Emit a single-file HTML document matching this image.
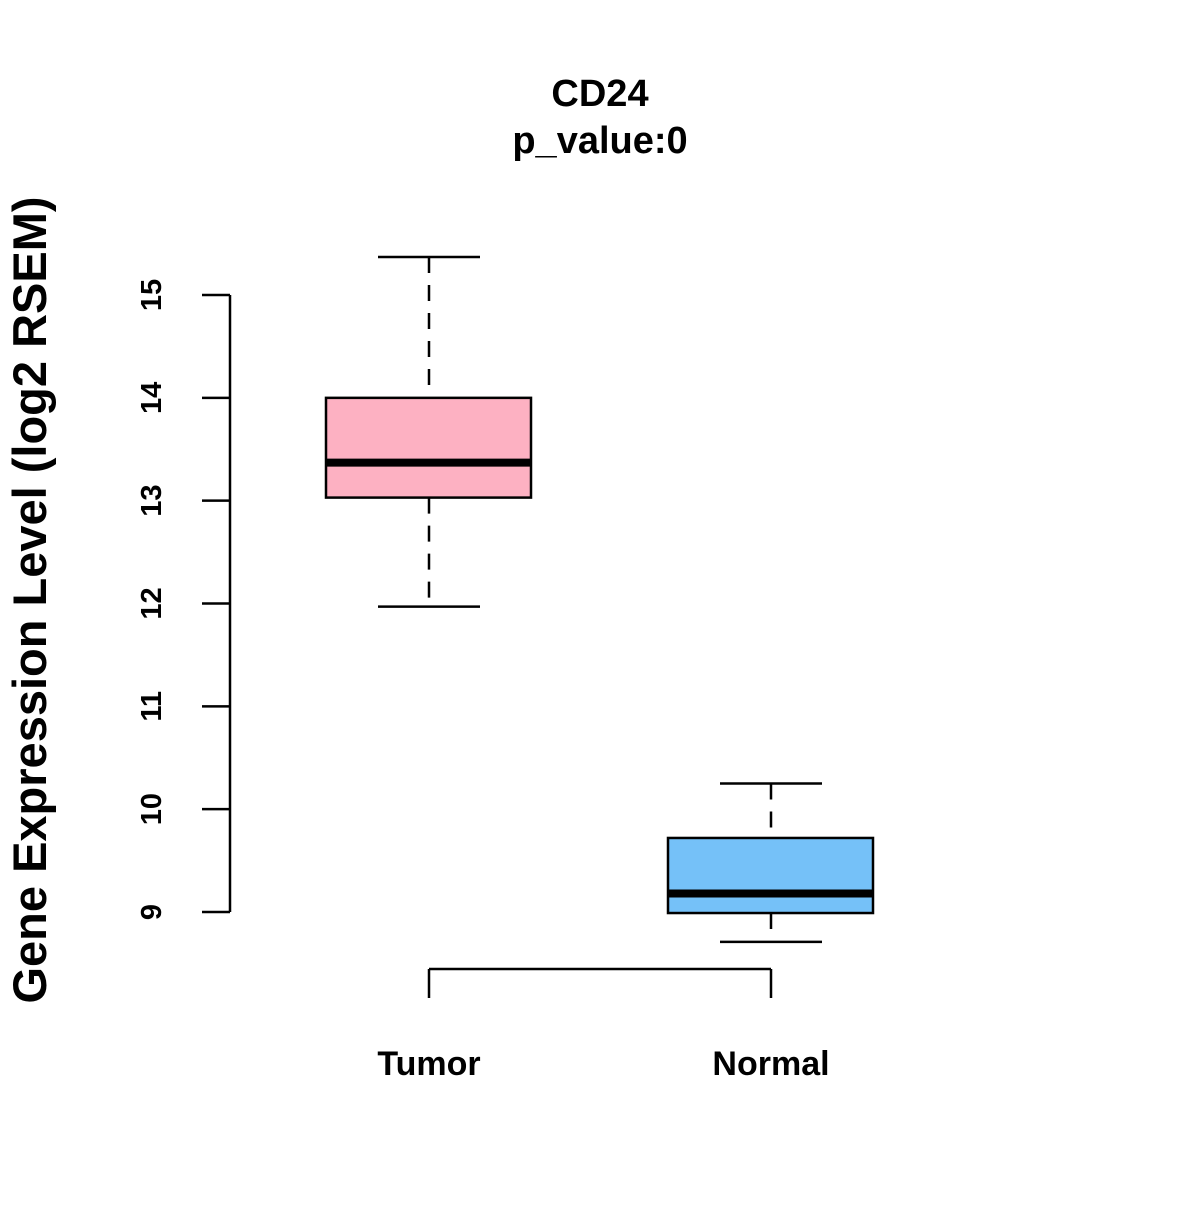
<!DOCTYPE html>
<html><head><meta charset="utf-8"><style>
body{margin:0;background:#fff}
svg text{font-family:"Liberation Sans",Arial,sans-serif;font-weight:bold;fill:#000}
</style></head><body>
<svg id="chart" width="1200" height="1200" viewBox="0 0 1200 1200" xmlns="http://www.w3.org/2000/svg">
<rect width="1200" height="1200" fill="#fff"/>
<text x="600" y="106" font-size="38" text-anchor="middle">CD24</text>
<text x="600" y="153" font-size="38" text-anchor="middle">p_value:0</text>
<text transform="translate(46,600) rotate(-90)" font-size="47" text-anchor="middle">Gene Expression Level (log2 RSEM)</text>
<g id="yaxis"></g>
<g id="xaxis"></g>
<g id="boxes"></g>
</svg>
<script>
const categories=["Tumor","Normal"];
const whiskerLow=[11.97,8.71];
const q1=[13.03,8.99];
const medians=[13.37,9.18];
const q3=[14.0,9.72];
const whiskerHigh=[15.37,10.25];
const colors=["#FDB1C2","#75C1F8"];
const yTicks=[9,10,11,12,13,14,15];

const NS="http://www.w3.org/2000/svg";
function y(v){return 912-(v-9)*102.83;}
function x(i){return 429+i*342;}
function mk(tag,attrs,parent){const e=document.createElementNS(NS,tag);for(const k in attrs)e.setAttribute(k,attrs[k]);parent.appendChild(e);return e;}
const ya=document.getElementById('yaxis'),xa=document.getElementById('xaxis'),bx=document.getElementById('boxes');
const ax=mk('line',{x1:230,x2:230,y1:y(yTicks[0]),y2:y(yTicks[yTicks.length-1]),stroke:'#000','stroke-width':2.5},ya);


yTicks.forEach(t=>{
  const l=mk('line',{x1:202,x2:230,y1:y(t),y2:y(t),stroke:'#000','stroke-width':2.5},ya);
  
  
  const tx=mk('text',{transform:`translate(161,${y(t)}) rotate(-90)`,'font-size':29,'text-anchor':'middle'},ya);
  tx.textContent=t;
  
  
});
const xl=mk('line',{x1:x(0),x2:x(1),y1:969,y2:969,stroke:'#000','stroke-width':2.5},xa);


categories.forEach((c,i)=>{
  const l=mk('line',{x1:x(i),x2:x(i),y1:969,y2:998,stroke:'#000','stroke-width':2.5},xa);
  
  
  const t=mk('text',{x:x(i),y:1075,'font-size':34,'text-anchor':'middle'},xa);
  t.textContent=c;
  
  
  const g=mk('g',{},bx);
  
  
  const cx=x(i);
  mk('line',{x1:cx,x2:cx,y1:y(whiskerHigh[i]),y2:y(q3[i]),stroke:'#000','stroke-width':2.5,'stroke-dasharray':'16,12'},g);
  mk('line',{x1:cx,x2:cx,y1:y(q1[i]),y2:y(whiskerLow[i]),stroke:'#000','stroke-width':2.5,'stroke-dasharray':'16,12'},g);
  mk('line',{x1:cx-51,x2:cx+51,y1:y(whiskerHigh[i]),y2:y(whiskerHigh[i]),stroke:'#000','stroke-width':2.5},g);
  mk('line',{x1:cx-51,x2:cx+51,y1:y(whiskerLow[i]),y2:y(whiskerLow[i]),stroke:'#000','stroke-width':2.5},g);
  mk('rect',{x:cx-103,y:y(q3[i]),width:205,height:y(q1[i])-y(q3[i]),fill:colors[i],stroke:'#000','stroke-width':2.5},g);
  mk('line',{x1:cx-103,x2:cx+102,y1:y(medians[i]),y2:y(medians[i]),stroke:'#000','stroke-width':8},g);
});
</script>
</body></html>
